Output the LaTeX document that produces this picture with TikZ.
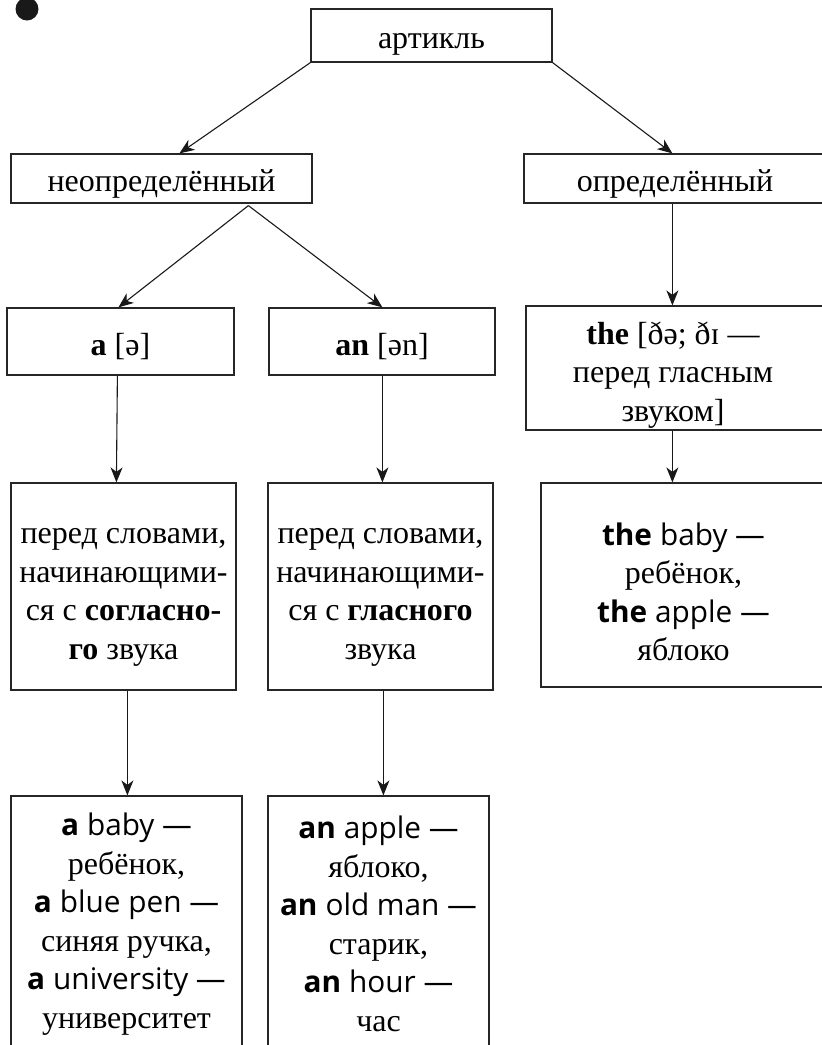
\documentclass[tikz,border=0pt]{standalone}
\usepackage{fontspec}
\setmainfont{Liberation Serif}
\newfontfamily\sansf[Scale=0.93]{Open Sans}
\usetikzlibrary{arrows.meta}
\tikzset{
  box/.style={draw=black!85, line width=1.2pt, rectangle, inner sep=0pt},
  txt/.style={inner sep=0pt, align=center, font=\fontsize{32}{38.5}\selectfont},
  arr/.style={draw=black!90, line width=1.1pt, -{Stealth[length=15pt,width=12pt,inset=4.5pt]}},
}
\newcommand{\sx}[1]{{\sansf\bfseries #1}}
\newcommand{\sr}[1]{{\sansf #1}}
\begin{document}
\begin{tikzpicture}[x=1pt,y=-1pt]
\useasboundingbox (0,0) rectangle (822,1045);
\clip (0,0) rectangle (822,1045);
\fill[black!90] (27,9) circle (11.5);
% boxes (center, width, height)
\node[box, minimum width=241, minimum height=53] (art) at (431.5,35.5) {};
\node[box, minimum width=301, minimum height=49] (neo) at (161.5,178.5) {};
\node[box, minimum width=302, minimum height=49] (def) at (675,178.5) {};
\node[box, minimum width=227, minimum height=67] (a) at (120.5,341.5) {};
\node[box, minimum width=226, minimum height=67] (an) at (382,341.5) {};
\node[box, minimum width=300, minimum height=124] (the) at (676,368) {};
\node[box, minimum width=225, minimum height=207] (ca) at (123.5,586.5) {};
\node[box, minimum width=225, minimum height=207] (cv) at (380.5,586.5) {};
\node[box, minimum width=285, minimum height=204] (exthe) at (683.5,585) {};
\node[box, minimum width=231, minimum height=254] (exa) at (126.5,923) {};
\node[box, minimum width=221, minimum height=254] (exan) at (378.5,923) {};
% texts
\node[txt] (art-t) at ([yshift=-9pt]art.center) {артикль};
\node[txt] (neo-t) at ([yshift=-5pt]neo.center) {неопределённый};
\node[txt] (def-t) at ([yshift=-5pt]def.center) {определённый};
\node[txt] (a-t) at ([yshift=-5pt]a.center) {\textbf{a} [ə]};
\node[txt] (an-t) at ([yshift=-5pt]an.center) {\textbf{an} [ən]};
\node[txt] (the-t) at ([xshift=-3pt,yshift=-7pt]the.center) {\textbf{the} [ðə; ðɪ —\\перед гласным\\звуком]};
\node[txt] (ca-t) at ([yshift=-11pt]ca.center) {перед словами,\\начинающими-\\ся с \textbf{согласно-}\\\textbf{го} звука};
\node[txt] (cv-t) at ([yshift=-11pt]cv.center) {перед словами,\\начинающими-\\ся с \textbf{гласного}\\звука};
\node[txt] (exthe-t) at ([yshift=-7pt]exthe.center) {\sx{the} \sr{baby —}\\ребёнок,\\\sx{the} \sr{apple —}\\яблоко};
\node[txt] (exa-t) at ([yshift=-1pt]exa.center) {\sx{a} \sr{baby —}\\ребёнок,\\\sx{a} \sr{blue pen —}\\синяя ручка,\\\sx{a} \sr{university —}\\университет};
\node[txt] (exan-t) at ([yshift=-1pt]exan.center) {\sx{an} \sr{apple —}\\яблоко,\\\sx{an} \sr{old man —}\\старик,\\\sx{an} \sr{hour —}\\час};
% connectors
\coordinate (apex) at ([xshift=238pt,yshift=-2pt]neo.south west);
\draw[arr] (art.south west) -- ([xshift=169pt]neo.north west);
\draw[arr] (art.south east) -- ([xshift=149pt]def.north west);
\draw[arr] (apex) -- ([xshift=112pt]a.north west);
\draw[arr] (apex) -- ([xshift=114pt]an.north west);
\draw[arr] ([xshift=111pt]a.south west) -- ([xshift=106pt]ca.north west);
\draw[arr] ([xshift=114pt]an.south west) -- ([xshift=115pt]cv.north west);
\draw[arr] ([xshift=149pt]def.south west) -- ([xshift=147pt]the.north west);
\draw[arr] ([xshift=147pt]the.south west) -- ([xshift=132pt]exthe.north west);
\draw[arr] ([xshift=117pt]ca.south west) -- ([xshift=117pt]exa.north west);
\draw[arr] ([xshift=116pt]cv.south west) -- ([xshift=116pt]exan.north west);
\end{tikzpicture}
\end{document}
